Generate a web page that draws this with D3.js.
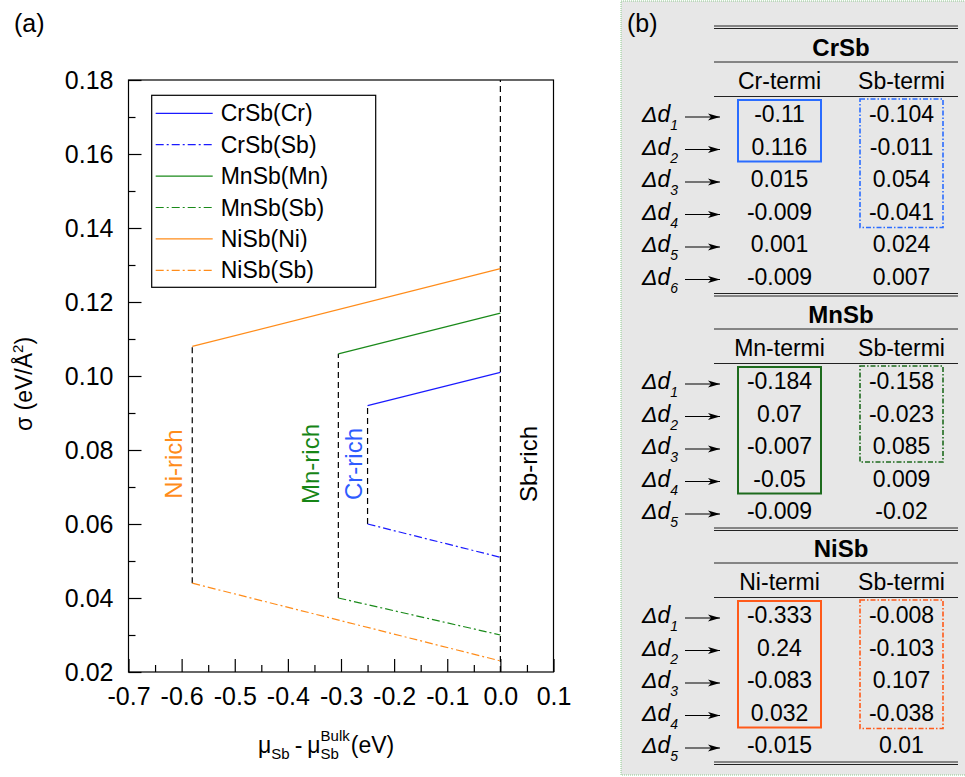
<!DOCTYPE html>
<html>
<head>
<meta charset="utf-8">
<script src="https://cdn.jsdelivr.net/npm/d3@7"></script>
<style>
body { margin: 0; background: #fff; }
svg { font-family: "Liberation Sans", Arial, sans-serif; }
</style>
</head>
<body>
<svg id="chart" width="965" height="777"></svg>
<script>
// ---- panel (a) ----
var xMajor = [-0.7, -0.6, -0.5, -0.4, -0.3, -0.2, -0.1, 0.0, 0.1];
var xMinor = [-0.65, -0.55, -0.45, -0.35, -0.25, -0.15, -0.05, 0.05];
var yMajor = [0.02, 0.04, 0.06, 0.08, 0.10, 0.12, 0.14, 0.16, 0.18];
var yMinor = [0.03, 0.05, 0.07, 0.09, 0.11, 0.13, 0.15, 0.17];

var seriesNames  = ['CrSb(Cr)', 'CrSb(Sb)', 'MnSb(Mn)', 'MnSb(Sb)', 'NiSb(Ni)', 'NiSb(Sb)'];
var seriesStartX = [-0.25, -0.25, -0.305, -0.305, -0.58, -0.58];
var seriesEndX   = [0.0, 0.0, 0.0, 0.0, 0.0, 0.0];
var seriesStartY = [0.092, 0.060, 0.106, 0.040, 0.108, 0.044];
var seriesEndY   = [0.101, 0.051, 0.117, 0.030, 0.129, 0.023];

var limitNames = ['Ni-rich', 'Mn-rich', 'Cr-rich', 'Sb-rich'];
var limitX     = [-0.58, -0.305, -0.25, 0.0];
var limitLow   = [0.044, 0.040, 0.060, 0.02];
var limitHigh  = [0.108, 0.106, 0.092, 0.18];

// ---- panel (b) ----
var tableNames   = ['CrSb', 'MnSb', 'NiSb'];
var metalHeaders = ['Cr-termi', 'Mn-termi', 'Ni-termi'];
var crMetal = ['-0.11', '0.116', '0.015', '-0.009', '0.001', '-0.009'];
var crSb    = ['-0.104', '-0.011', '0.054', '-0.041', '0.024', '0.007'];
var mnMetal = ['-0.184', '0.07', '-0.007', '-0.05', '-0.009'];
var mnSb    = ['-0.158', '-0.023', '0.085', '0.009', '-0.02'];
var niMetal = ['-0.333', '0.24', '-0.083', '0.032', '-0.015'];
var niSb    = ['-0.008', '-0.103', '0.107', '-0.038', '0.01'];
var boxedMetalRows = [2, 4, 4];
var boxedSbRows    = [4, 3, 4];

// styles
var seriesColors = ['#1a1aff', '#1a1aff', '#1a8a1a', '#1a8a1a', '#ff8c1a', '#ff8c1a'];
var seriesDash   = [null, '8,3,2,3', null, '8,3,2,3', null, '8,3,2,3'];
var limitColors  = ['#ff8c1a', '#168516', '#2e5bff', '#000'];
var limitShift   = [-19, -28, -14, 28];
var boxColors    = ['#2a6cff', '#1e6b1e', '#ff5a1a'];

var svg = d3.select('#chart');
var fmt1 = function(d) { return d.toFixed(1); };
var fmt2 = function(d) { return d.toFixed(2); };

var x = d3.scaleLinear().domain([-0.7, 0.1]).range([128.5, 553.5]);
var y = d3.scaleLinear().domain([0.02, 0.18]).range([672, 80]);

svg.append('text').attr('x', 14).attr('y', 32).attr('font-size', 25).text('(a)');

// axes
function styleAxis(g) {
    g.select('.domain').remove();
    g.selectAll('line').attr('stroke', '#000').attr('stroke-width', 1.2);
    g.selectAll('text').attr('font-size', 25).attr('fill', '#000')
        .attr('font-family', '"Liberation Sans", Arial, sans-serif');
}

svg.append('g').attr('transform', 'translate(0,672)')
    .call(d3.axisBottom(x).tickValues(xMajor).tickSize(-13).tickPadding(15).tickFormat(fmt1))
    .call(styleAxis);
svg.append('g').attr('transform', 'translate(0,672)')
    .call(d3.axisBottom(x).tickValues(xMinor).tickSize(-7).tickFormat(''))
    .call(styleAxis);
svg.append('g').attr('transform', 'translate(128.5,0)')
    .call(d3.axisLeft(y).tickValues(yMajor).tickSize(-13).tickPadding(15).tickFormat(fmt2))
    .call(styleAxis);
svg.append('g').attr('transform', 'translate(128.5,0)')
    .call(d3.axisLeft(y).tickValues(yMinor).tickSize(-7).tickFormat(''))
    .call(styleAxis);

svg.append('rect')
    .attr('x', x(-0.7)).attr('y', y(0.18))
    .attr('width', x(0.1) - x(-0.7)).attr('height', y(0.02) - y(0.18))
    .attr('fill', 'none').attr('stroke', '#000').attr('stroke-width', 1.2);

// boundary lines
svg.selectAll('.limit').data(limitX).enter().append('line')
    .attr('class', 'limit')
    .attr('x1', function(d) { return x(d); }).attr('x2', function(d) { return x(d); })
    .attr('y1', function(d, i) { return y(limitLow[i]); })
    .attr('y2', function(d, i) { return y(limitHigh[i]); })
    .attr('stroke', '#000').attr('stroke-width', 1.2).attr('stroke-dasharray', '6,4');

svg.selectAll('.series').data(seriesNames).enter().append('line')
    .attr('class', 'series')
    .attr('x1', function(d, i) { return x(seriesStartX[i]); })
    .attr('x2', function(d, i) { return x(seriesEndX[i]); })
    .attr('y1', function(d, i) { return y(seriesStartY[i]); })
    .attr('y2', function(d, i) { return y(seriesEndY[i]); })
    .attr('stroke', function(d, i) { return seriesColors[i]; })
    .attr('stroke-width', 1.2)
    .attr('stroke-dasharray', function(d, i) { return seriesDash[i]; });

svg.selectAll('.limit-label').data(limitNames).enter().append('text')
    .attr('class', 'limit-label')
    .attr('transform', function(d, i) {
        return 'translate(' + (x(limitX[i]) + limitShift[i]) + ',464) rotate(-90)';
    })
    .attr('text-anchor', 'middle').attr('dy', '0.35em')
    .attr('font-size', 24)
    .attr('fill', function(d, i) { return limitColors[i]; })
    .text(function(d) { return d; });

// legend
var legend = svg.append('g').attr('transform', 'translate(151.7,95.3)');
legend.append('rect').attr('width', 224).attr('height', 192)
    .attr('fill', '#fff').attr('stroke', '#000').attr('stroke-width', 1.2);
var item = legend.selectAll('.item').data(seriesNames).enter().append('g')
    .attr('class', 'item')
    .attr('transform', function(d, i) { return 'translate(0,' + (18 + i * 31.4) + ')'; });
item.append('line').attr('x1', 4).attr('x2', 61)
    .attr('stroke', function(d, i) { return seriesColors[i]; })
    .attr('stroke-width', 1.2)
    .attr('stroke-dasharray', function(d, i) { return seriesDash[i]; });
item.append('text').attr('x', 69).attr('dy', '0.35em').attr('font-size', 23)
    .text(function(d) { return d; });

// axis titles
var yt = svg.append('text').attr('transform', 'translate(24,384) rotate(-90)')
    .attr('text-anchor', 'middle').attr('dy', '0.35em').attr('font-size', 23);
yt.append('tspan').text('σ (eV/Å');
yt.append('tspan').attr('font-size', 15).attr('dy', -9).text('2');
yt.append('tspan').attr('dy', 9).text(')');

var xt = svg.append('g').attr('transform', 'translate(258,753)');
var cx = 0;
function piece(str, size, dy) {
    var t = xt.append('text').attr('x', cx).attr('y', dy).attr('font-size', size)
        .style('white-space', 'pre').text(str);
    return t.node().getComputedTextLength();
}
cx += piece('μ', 23, 0);
cx += piece('Sb', 15, 6) + 5;
cx += piece('-', 23, 0) + 5;
cx += piece('μ', 23, 0);
var wSub = piece('Sb', 15, 6);
var wSup = piece('Bulk', 15, -12);
cx += Math.max(wSub, wSup) + 1;
piece('(eV)', 23, 0);

// ---- panel (b) ----
svg.append('rect').attr('x', 621).attr('y', 1).attr('width', 350).attr('height', 774)
    .attr('fill', '#e7e7e7').attr('stroke', '#8cc98c').attr('stroke-width', 1)
    .attr('stroke-dasharray', '1,1');
svg.append('text').attr('x', 627).attr('y', 32).attr('font-size', 25).text('(b)');

svg.append('defs').append('marker')
    .attr('id', 'arrow').attr('viewBox', '0 -4 12 8')
    .attr('refX', 12).attr('refY', 0)
    .attr('markerWidth', 12).attr('markerHeight', 8)
    .attr('markerUnits', 'userSpaceOnUse').attr('orient', 'auto')
    .append('path').attr('d', 'M0,-3.5L12,0L0,3.5L3,0Z').attr('fill', '#000');

var metalCols = [crMetal, mnMetal, niMetal];
var sbCols = [crSb, mnSb, niSb];
var sectionTops = [27, 294, 528];
var colMetal = 779.5, colSb = 901.5, tableL = 714, tableR = 958, rowStep = 32.5;

function hline(yy, w) {
    svg.append('line').attr('x1', tableL).attr('x2', tableR).attr('y1', yy).attr('y2', yy)
        .attr('stroke', '#222').attr('stroke-width', w || 1);
}

function drawSection(k) {
    var top = sectionTops[k];
    var metal = metalCols[k], sb = sbCols[k];
    var rowY = function(i) { return top + 87 + i * rowStep; };

    if (k === 0) { hline(top - 1); hline(top + 1.5); }
    svg.append('text').attr('x', 841).attr('y', top + 21).attr('dy', '0.35em')
        .attr('text-anchor', 'middle').attr('font-size', 24).attr('font-weight', 'bold')
        .text(tableNames[k]);
    hline(top + 35);
    svg.append('text').attr('x', colMetal).attr('y', top + 54).attr('dy', '0.35em')
        .attr('text-anchor', 'middle').attr('font-size', 23).text(metalHeaders[k]);
    svg.append('text').attr('x', colSb).attr('y', top + 54).attr('dy', '0.35em')
        .attr('text-anchor', 'middle').attr('font-size', 23).text('Sb-termi');
    hline(top + 69.5);

    metal.forEach(function(v, i) {
        var lab = svg.append('text').attr('x', 642).attr('y', rowY(i)).attr('dy', '0.35em')
            .attr('font-size', 23).attr('font-style', 'italic');
        lab.append('tspan').text('Δd');
        lab.append('tspan').attr('font-size', 14).attr('dy', 8).text(i + 1);
        svg.append('line').attr('x1', 685).attr('x2', 720)
            .attr('y1', rowY(i) + 3).attr('y2', rowY(i) + 3)
            .attr('stroke', '#000').attr('stroke-width', 1.2).attr('marker-end', 'url(#arrow)');
        svg.append('text').attr('x', colMetal).attr('y', rowY(i)).attr('dy', '0.35em')
            .attr('text-anchor', 'middle').attr('font-size', 23).text(v);
        svg.append('text').attr('x', colSb).attr('y', rowY(i)).attr('dy', '0.35em')
            .attr('text-anchor', 'middle').attr('font-size', 23).text(sb[i]);
    });

    var last = rowY(metal.length - 1);
    hline(last + 17); hline(last + 19.5);

    svg.append('rect')
        .attr('x', colMetal - 41.5).attr('y', rowY(0) - 14)
        .attr('width', 83).attr('height', rowY(boxedMetalRows[k] - 1) - rowY(0) + 29)
        .attr('fill', 'none').attr('stroke', boxColors[k]).attr('stroke-width', 2);
    svg.append('rect')
        .attr('x', colSb - 41.5).attr('y', rowY(0) - 15)
        .attr('width', 83).attr('height', rowY(boxedSbRows[k] - 1) - rowY(0) + 31)
        .attr('fill', 'none').attr('stroke', boxColors[k]).attr('stroke-width', 1.6)
        .attr('stroke-dasharray', '5,2,1.5,2');
}

for (var k = 0; k < tableNames.length; k++) drawSection(k);
</script>
</body>
</html>
